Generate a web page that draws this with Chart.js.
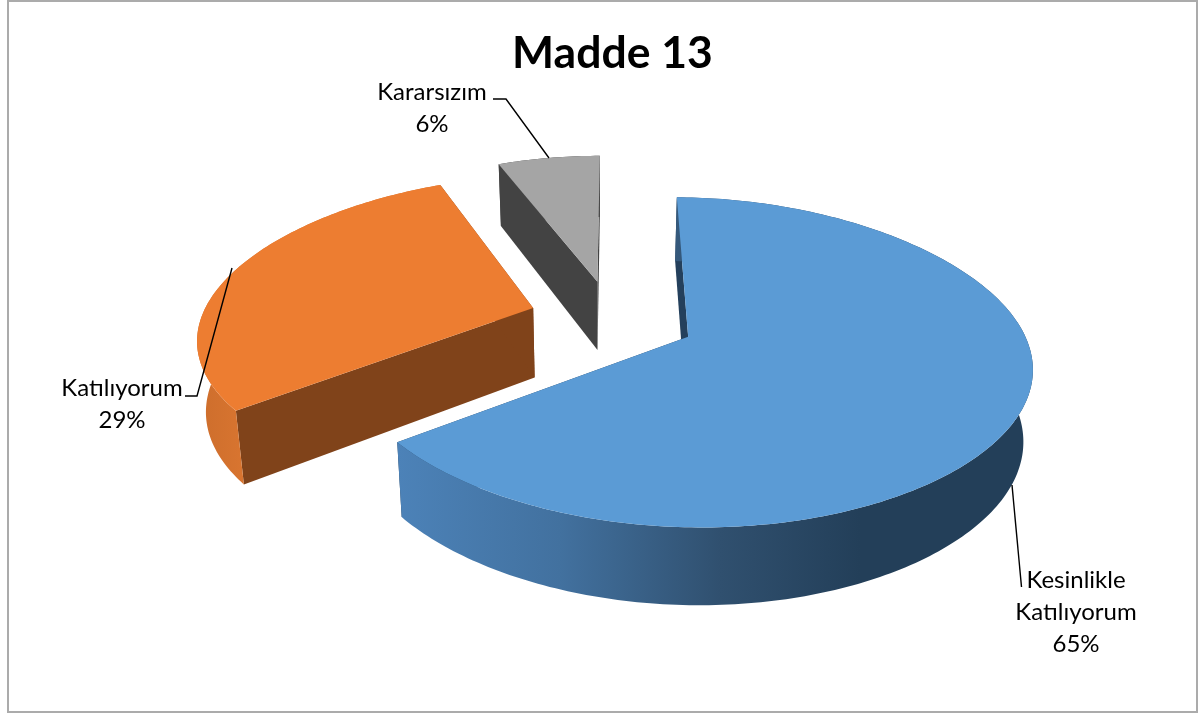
<!DOCTYPE html>
<html>
<head>
<meta charset="utf-8">
<title>Madde 13</title>
<script src="https://cdn.jsdelivr.net/npm/chart.js@4"></script>
<style>
    html, body { margin: 0; padding: 0; background: #fff; }
    canvas { display: block; }
</style>
</head>
<body>
<canvas id="pie" width="1198" height="714"></canvas>
<script>
var categories = ['Kesinlikle Katılıyorum', 'Katılıyorum', 'Kararsızım'];
var percents = [65, 29, 6];
var chartTitle = 'Madde 13';

var topColors = ['#5B9BD5', '#ED7D31', '#A5A5A5'];
var faceColors = ['#24405C', '#80431A', '#434343'];
var wallStops = [
    [[398, '#4C82B8'], [560, '#42719F'], [720, '#30506F'], [860, '#233F59'], [1040, '#233F59']],
    [[195, '#CC6D2C'], [245, '#D97530']],
    [[490, '#434343'], [610, '#434343']]
];

// Camera for the tilted pie, fitted to the picture
var view = {
    cx: 612.5, cy: 318.5, a: 334, b: 155.5, bow: 4,
    gx: 0.15, warp: 0.03, gy: 0.153,
    explode: 0.25, depth: 70, depthY: 7, shrink: 0.022, shrinkX: 600
};

// Label boxes and leader lines
var labelLayout = [
    { x: 1076, y: 580, lines: ['Kesinlikle', 'Katılıyorum'], leader: [[1012, 485], [1021.5, 587]] },
    { x: 122, y: 388, lines: ['Katılıyorum'], leader: [[185, 396], [197, 396], [232, 268]] },
    { x: 432, y: 92, lines: ['Kararsızım'], leader: [[493, 99], [506, 99], [549, 158]] }
];

function project(x, y, z) {
    var sx = view.cx + view.a * x / (1 - view.gx * y + view.warp * y * y);
    var sy = view.cy + (view.b * y + view.bow * x * x) / (1 - view.gy * y);
    return [sx - (sx - view.shrinkX) * view.shrink * z, sy + z * (view.depth + view.depthY * y)];
}

function tracePath(ctx, points) {
    ctx.beginPath();
    points.forEach(function(p, i) {
        if (i === 0) ctx.moveTo(p[0], p[1]);
        else ctx.lineTo(p[0], p[1]);
    });
    ctx.closePath();
}

var pie3d = {
    id: 'pie3d',
    // The arcs of the controller give the angles, the camera puts them on screen
    beforeDatasetsDraw: function(chart) {
        var ctx = chart.ctx;
        var arcs = chart.getDatasetMeta(0).data;
        [2, 1, 0].forEach(function(i) {
            var el = arcs[i];
            var mid = (el.startAngle + el.endAngle) / 2;
            var ox = Math.cos(mid) * view.explode;
            var oy = Math.sin(mid) * view.explode;
            var steps = Math.ceil((el.endAngle - el.startAngle) * 180 / Math.PI);
            var rim = [];
            for (var s = 0; s <= steps; s++) {
                var t = el.startAngle + (el.endAngle - el.startAngle) * s / steps;
                rim.push([ox + Math.cos(t), oy + Math.sin(t)]);
            }
            var at = function(z) {
                return rim.map(function(p) { return project(p[0], p[1], z); });
            };
            var top = at(0), bottom = at(1);
            var n = rim.length - 1;

            ctx.fillStyle = faceColors[i];
            [0, n].forEach(function(k) {
                tracePath(ctx, [project(ox, oy, 0), top[k], bottom[k], project(ox, oy, 1)]);
                ctx.fill();
            });

            var stops = wallStops[i];
            var first = stops[0][0], last = stops[stops.length - 1][0];
            var grad = ctx.createLinearGradient(first, 0, last, 0);
            stops.forEach(function(st) {
                grad.addColorStop((st[0] - first) / (last - first), st[1]);
            });
            ctx.fillStyle = grad;
            tracePath(ctx, top.concat(bottom.slice().reverse()));
            ctx.fill();

            ctx.fillStyle = topColors[i];
            tracePath(ctx, [project(ox, oy, 0)].concat(top));
            ctx.fill();
        });
        return false;
    },
    afterDraw: function(chart) {
        var ctx = chart.ctx;
        ctx.save();
        ctx.strokeStyle = '#ABABAB';
        ctx.lineWidth = 2;
        ctx.strokeRect(8, 1, 1189, 711);

        ctx.fillStyle = '#000';
        ctx.font = '24px Lato';
        ctx.textAlign = 'center';
        ctx.textBaseline = 'middle';
        labelLayout.forEach(function(item, i) {
            var lines = item.lines.concat([percents[i] + '%']);
            lines.forEach(function(line, k) {
                ctx.fillText(line, item.x, item.y + k * 32);
            });
            ctx.strokeStyle = '#000';
            ctx.lineWidth = 1.4;
            ctx.beginPath();
            item.leader.forEach(function(p, k) {
                if (k === 0) ctx.moveTo(p[0], p[1]);
                else ctx.lineTo(p[0], p[1]);
            });
            ctx.stroke();
        });
        ctx.restore();
    }
};

new Chart(document.getElementById('pie'), {
    type: 'pie',
    data: {
        labels: categories,
        datasets: [{ data: percents, backgroundColor: topColors, borderWidth: 0 }]
    },
    options: {
        responsive: false,
        animation: false,
        layout: { padding: { left: 27 } },
        plugins: {
            legend: { display: false },
            tooltip: { enabled: false },
            title: {
                display: true,
                text: chartTitle,
                color: '#000',
                font: { family: 'Lato', size: 44.5, weight: 'bold' },
                padding: { top: 27, bottom: 10 }
            }
        }
    },
    plugins: [pie3d]
});
</script>
</body>
</html>
